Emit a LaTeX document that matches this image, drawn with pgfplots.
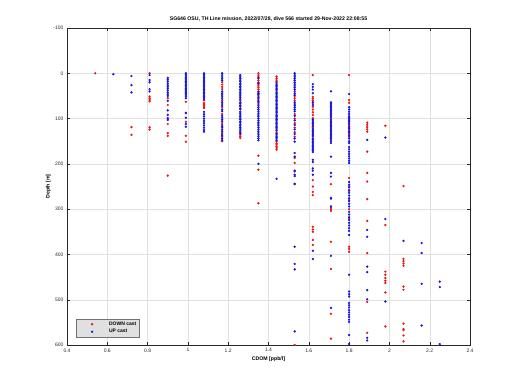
\documentclass[border=0pt]{standalone}
\usepackage{pgfplots}
\pgfplotsset{compat=1.18}
\usepackage{fontspec}
\setmainfont{Liberation Sans}
\definecolor{gridc}{RGB}{225,225,225}
\definecolor{axc}{RGB}{40,40,40}
\definecolor{dnc}{RGB}{235,20,20}
\definecolor{upc}{RGB}{20,20,225}
\begin{document}
\begin{tikzpicture}
\path[use as bounding box] (-67pt,-45pt) rectangle (453pt,345pt);
\begin{axis}[
  at={(0pt,0pt)}, anchor=south west,
  width=403pt, height=317pt, scale only axis,
  xmin=0.4, xmax=2.4, ymin=-100, ymax=600, y dir=reverse,
  xtick={0.4,0.6,0.8,1,1.2,1.4,1.6,1.8,2,2.2,2.4},
  xticklabels={0.4,0.6,0.8,1,1.2,1.4,1.6,1.8,2,2.2,2.4},
  ytick={-100,0,100,200,300,400,500,600},
  /pgf/number format/assume math mode=true,
  tick label style={font=\fontsize{5}{6}\selectfont, text=axc},
  tick align=inside, major tick length=3pt,
  tick style={axc, line width=0.4pt},
  axis line style={axc, line width=0.5pt},
  grid=major, grid style={gridc, line width=0.4pt},
  title={SG646 OSU, TH Line mission, 2022/07/28, dive 566 started 29-Nov-2022 22:08:55},
  title style={font=\fontsize{5.2}{6}\selectfont\bfseries, yshift=-3pt},
  xlabel={CDOM [ppb/l]}, ylabel={Depth [m]},
  xlabel style={font=\fontsize{5.2}{6}\selectfont\bfseries, yshift=2pt},
  ylabel style={font=\fontsize{5.2}{6}\selectfont\bfseries, yshift=-4pt},
  legend style={at={(0.022,0.024)}, anchor=south west, fill=black!12, draw=black!55,
    font=\fontsize{5}{6}\selectfont\bfseries, inner xsep=1pt, inner ysep=1pt, row sep=-1.5pt,
    cells={anchor=west}, line width=0.4pt},
  legend image code/.code={\path[draw=none,fill=none] (0pt,0pt) -- (30pt,0pt); \draw[#1] plot coordinates {(15pt,0pt)};},
  legend cell align=left,
]
% DOWN cast (red)
\addplot[dnc, only marks, mark=*, mark size=0.95pt, mark options={draw=none, fill=dnc}] coordinates {
(0.54,0)
(0.72,119)(0.72,136)
(0.81,0)(0.81,51)(0.81,55)(0.81,59)(0.81,62)(0.81,119)(0.81,124)
(0.90,55)(0.90,70)(0.90,112)(0.90,132)(0.90,138)(0.90,226)
(0.99,40)(0.99,63)(0.99,87)(0.99,107)(0.99,138)(0.99,151)
(1.08,60)(1.08,66)(1.08,69)(1.08,72)(1.08,75)(1.08,77)
(1.17,20)(1.17,25)(1.17,30)(1.17,35)(1.17,60)(1.17,75)(1.17,90)(1.17,110)(1.17,120)(1.17,130)(1.17,140)(1.17,150)
(1.26,60)(1.26,80)(1.26,136)(1.26,140)(1.26,143)
(1.35,0)(1.35,4)(1.35,8)(1.35,12)(1.35,16)(1.35,20)(1.35,24)(1.35,28)(1.35,32)(1.35,36)(1.35,40)(1.35,45)(1.35,55)(1.35,65)(1.35,182)(1.35,213)(1.35,287)
(1.44,7)(1.44,11)(1.44,15)(1.44,18)(1.44,130)(1.44,151)(1.44,155)(1.44,158)(1.44,162)(1.44,165)(1.44,169)
(1.53,40)(1.53,50)(1.53,55)(1.53,60)(1.53,90)(1.53,100)(1.53,110)(1.53,120)(1.53,130)(1.53,140)(1.53,187)(1.53,198)(1.53,217)(1.53,245)(1.53,600)
(1.62,4)(1.62,52)(1.62,56)(1.62,60)(1.62,66)(1.62,74)(1.62,80)(1.62,86)(1.62,92)(1.62,99)(1.62,120)(1.62,140)(1.62,236)(1.62,250)(1.62,262)(1.62,269)(1.62,339)(1.62,345)(1.62,350)(1.62,368)(1.62,379)
(1.71,100)(1.71,120)(1.71,147)(1.71,245)(1.71,297)(1.71,300)(1.71,304)(1.71,372)(1.71,432)(1.71,531)(1.71,586)
(1.80,4)(1.80,59)(1.80,65)(1.80,110)(1.80,115)(1.80,120)(1.80,125)(1.80,130)(1.80,135)(1.80,140)(1.80,231)(1.80,250)(1.80,260)(1.80,280)(1.80,300)(1.80,320)(1.80,383)(1.80,388)(1.80,394)
(1.89,109)(1.89,114)(1.89,119)(1.89,124)(1.89,129)(1.89,173)(1.89,220)(1.89,239)(1.89,278)(1.89,326)(1.89,397)(1.89,505)(1.89,573)
(1.98,116)(1.98,335)(1.98,438)(1.98,445)(1.98,452)(1.98,458)(1.98,463)(1.98,484)(1.98,559)
(2.07,249)(2.07,410)(2.07,415)(2.07,420)(2.07,425)(2.07,471)(2.07,478)(2.07,553)(2.07,565)(2.07,567)(2.07,579)(2.07,592)
};
\addlegendentry{DOWN cast\hspace{4pt}}
% UP cast (blue)
\addplot[upc, only marks, mark=*, mark size=0.95pt, mark options={draw=none, fill=upc}] coordinates {
(0.63,2)
(0.72,6)(0.72,26)(0.72,42)
(0.81,4)(0.81,15)(0.81,20)(0.81,35)(0.81,40)
(0.90,10)(0.90,14)(0.90,18)(0.90,22)(0.90,26)(0.90,30)(0.90,34)(0.90,38)(0.90,42)(0.90,46)(0.90,50)(0.90,61)(0.90,82)(0.90,92)(0.90,99)(0.90,103)
(0.99,0)(0.99,3)(0.99,6)(0.99,9)(0.99,12)(0.99,15)(0.99,18)(0.99,21)(0.99,24)(0.99,27)(0.99,30)(0.99,33)(0.99,36)(0.99,39)(0.99,42)(0.99,45)(0.99,48)(0.99,51)(0.99,55)(0.99,88)(0.99,98)(0.99,112)(0.99,118)
(1.08,0)(1.08,3)(1.08,6)(1.08,9)(1.08,12)(1.08,15)(1.08,18)(1.08,21)(1.08,24)(1.08,27)(1.08,30)(1.08,33)(1.08,36)(1.08,39)(1.08,42)(1.08,45)(1.08,48)(1.08,51)(1.08,54)(1.08,57)(1.08,85)(1.08,90)(1.08,95)(1.08,100)(1.08,105)(1.08,110)(1.08,115)(1.08,120)(1.08,125)(1.08,129)
(1.17,0)(1.17,4)(1.17,8)(1.17,12)(1.17,16)(1.17,40)(1.17,44)(1.17,48)(1.17,52)(1.17,56)(1.17,64)(1.17,68)(1.17,72)(1.17,80)(1.17,84)(1.17,94)(1.17,98)(1.17,102)(1.17,106)(1.17,114)(1.17,118)(1.17,124)(1.17,128)(1.17,134)(1.17,138)(1.17,144)(1.17,148)
(1.26,4)(1.26,8)(1.26,11)(1.26,15)(1.26,18)(1.26,22)(1.26,25)(1.26,29)(1.26,32)(1.26,36)(1.26,39)(1.26,43)(1.26,46)(1.26,50)(1.26,53)(1.26,57)(1.26,64)(1.26,67)(1.26,71)(1.26,74)(1.26,78)(1.26,85)(1.26,88)(1.26,92)(1.26,95)(1.26,99)(1.26,102)(1.26,106)(1.26,109)(1.26,113)(1.26,116)(1.26,120)(1.26,123)(1.26,127)(1.26,130)(1.26,133)
(1.35,10)(1.35,22)(1.35,41)(1.35,44)(1.35,47)(1.35,50)(1.35,53)(1.35,59)(1.35,62)(1.35,68)(1.35,72)(1.35,76)(1.35,80)(1.35,84)(1.35,88)(1.35,92)(1.35,96)(1.35,100)(1.35,104)(1.35,108)(1.35,112)(1.35,116)(1.35,120)(1.35,124)(1.35,128)(1.35,132)(1.35,136)(1.35,140)(1.35,144)(1.35,148)(1.35,200)
(1.44,21)(1.44,24)(1.44,27)(1.44,30)(1.44,33)(1.44,36)(1.44,39)(1.44,42)(1.44,45)(1.44,48)(1.44,51)(1.44,54)(1.44,57)(1.44,60)(1.44,63)(1.44,66)(1.44,69)(1.44,72)(1.44,75)(1.44,78)(1.44,81)(1.44,84)(1.44,87)(1.44,90)(1.44,93)(1.44,96)(1.44,99)(1.44,102)(1.44,105)(1.44,108)(1.44,111)(1.44,114)(1.44,117)(1.44,120)(1.44,123)(1.44,126)(1.44,133)(1.44,136)(1.44,139)(1.44,142)(1.44,145)(1.44,148)(1.44,233)
(1.53,0)(1.53,4)(1.53,8)(1.53,12)(1.53,16)(1.53,20)(1.53,24)(1.53,28)(1.53,32)(1.53,36)(1.53,44)(1.53,48)(1.53,64)(1.53,68)(1.53,72)(1.53,76)(1.53,80)(1.53,84)(1.53,94)(1.53,104)(1.53,114)(1.53,124)(1.53,134)(1.53,144)(1.53,151)(1.53,176)(1.53,184)(1.53,215)(1.53,224)(1.53,227)(1.53,244)(1.53,383)(1.53,421)(1.53,433)(1.53,570)
(1.62,24)(1.62,30)(1.62,36)(1.62,44)(1.62,64)(1.62,70)(1.62,102)(1.62,105)(1.62,108)(1.62,111)(1.62,114)(1.62,117)(1.62,123)(1.62,126)(1.62,129)(1.62,132)(1.62,135)(1.62,138)(1.62,144)(1.62,147)(1.62,150)(1.62,153)(1.62,156)(1.62,159)(1.62,162)(1.62,165)(1.62,168)(1.62,171)(1.62,174)(1.62,191)(1.62,196)(1.62,210)(1.62,215)(1.62,224)(1.62,392)(1.62,410)
(1.71,40)(1.71,64)(1.71,67)(1.71,70)(1.71,73)(1.71,76)(1.71,79)(1.71,82)(1.71,85)(1.71,88)(1.71,91)(1.71,94)(1.71,97)(1.71,103)(1.71,106)(1.71,109)(1.71,112)(1.71,115)(1.71,118)(1.71,123)(1.71,126)(1.71,129)(1.71,132)(1.71,135)(1.71,138)(1.71,141)(1.71,144)(1.71,150)(1.71,154)(1.71,184)(1.71,220)(1.71,228)(1.71,275)(1.71,277)(1.71,294)(1.71,403)(1.71,518)
(1.80,46)(1.80,75)(1.80,80)(1.80,85)(1.80,90)(1.80,95)(1.80,98)(1.80,101)(1.80,104)(1.80,107)(1.80,112)(1.80,118)(1.80,122)(1.80,128)(1.80,132)(1.80,138)(1.80,144)(1.80,150)(1.80,154)(1.80,163)(1.80,168)(1.80,173)(1.80,178)(1.80,183)(1.80,188)(1.80,193)(1.80,198)(1.80,240)(1.80,246)(1.80,252)(1.80,258)(1.80,264)(1.80,270)(1.80,276)(1.80,282)(1.80,288)(1.80,294)(1.80,306)(1.80,312)(1.80,318)(1.80,324)(1.80,330)(1.80,336)(1.80,342)(1.80,348)(1.80,357)(1.80,445)(1.80,482)(1.80,488)(1.80,493)(1.80,507)(1.80,512)(1.80,517)(1.80,523)(1.80,528)(1.80,533)(1.80,538)(1.80,544)(1.80,549)(1.80,578)(1.80,598)
(1.89,147)(1.89,346)(1.89,361)(1.89,427)(1.89,439)(1.89,479)(1.89,499)(1.89,584)(1.89,590)
(1.98,142)(1.98,322)(1.98,504)
(2.07,370)
(2.16,375)(2.16,397)(2.16,465)(2.16,557)
(2.25,460)(2.25,472)(2.25,598)
};
\addlegendentry{UP cast}
\end{axis}
\end{tikzpicture}
\end{document}
